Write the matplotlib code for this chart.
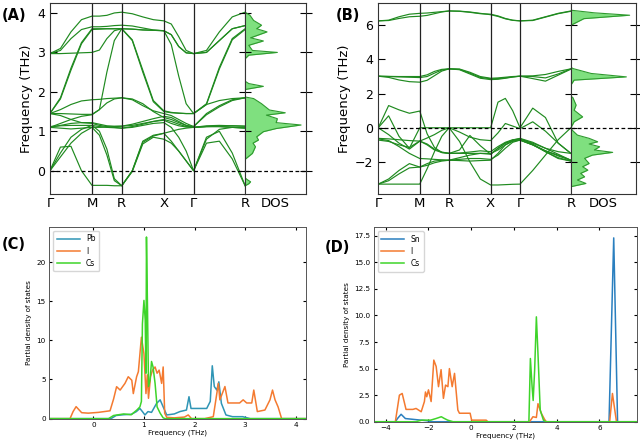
import matplotlib.pyplot as plt
import numpy as np

# k-path of the cubic cell
kpath_labels = ['Γ', 'M', 'R', 'X', 'Γ', 'R']
kpath_dist = [0.0, 0.707, 1.207, 1.914, 2.414, 3.280]

# each band is read at 5 points per segment, segment ends shared (21 values)
bands_a = [
    [2.97, 3.10, 3.52, 3.83, 3.92, 3.92, 3.94, 4.00, 4.02, 3.98, 3.90, 3.83, 3.80, 3.72, 3.40, 3.05, 2.97, 3.05, 3.52, 3.90, 4.02],
    [2.97, 3.05, 3.35, 3.58, 3.65, 3.65, 3.66, 3.68, 3.69, 3.67, 3.62, 3.57, 3.55, 3.20, 2.40, 1.70, 1.45, 1.68, 1.78, 1.83, 1.85],
    [2.97, 2.97, 2.98, 2.99, 3.00, 3.06, 3.35, 3.55, 3.60, 3.30, 2.50, 1.75, 1.50, 1.47, 1.46, 1.45, 1.45, 1.68, 2.58, 3.32, 3.58],
    [1.45, 1.85, 2.60, 3.25, 3.60, 3.60, 3.60, 3.60, 3.60, 3.32, 2.55, 1.78, 1.52, 1.48, 1.46, 1.45, 1.45, 1.70, 2.62, 3.35, 3.60],
    [1.45, 1.82, 2.55, 3.22, 3.58, 3.59, 3.60, 3.60, 3.60, 3.59, 3.57, 3.56, 3.55, 3.45, 3.15, 2.99, 2.97, 3.00, 3.30, 3.60, 3.68],
    [1.45, 1.55, 1.68, 1.77, 1.80, 1.81, 1.83, 1.84, 1.85, 1.80, 1.65, 1.52, 1.45, 1.40, 1.30, 1.20, 1.12, 1.45, 1.65, 1.80, 1.85],
    [1.45, 1.45, 1.44, 1.43, 1.43, 1.55, 1.72, 1.82, 1.85, 1.82, 1.70, 1.50, 1.35, 1.30, 1.22, 1.15, 1.12, 1.42, 1.62, 1.78, 1.85],
    [1.10, 1.15, 1.20, 1.22, 1.22, 1.18, 1.14, 1.13, 1.13, 1.18, 1.25, 1.32, 1.38, 1.35, 1.25, 1.15, 1.10, 1.12, 1.13, 1.14, 1.13],
    [1.12, 1.14, 1.15, 1.15, 1.15, 1.12, 1.10, 1.09, 1.08, 1.12, 1.18, 1.25, 1.30, 1.25, 1.18, 1.12, 1.10, 1.12, 1.12, 1.10, 1.08],
    [1.10, 1.08, 1.06, 1.08, 1.10, 1.10, 1.11, 1.12, 1.13, 1.15, 1.20, 1.25, 1.28, 1.20, 1.14, 1.11, 1.10, 1.14, 1.15, 1.14, 1.13],
    [0.00, 0.60, 0.62, 0.00, -0.37, -0.37, -0.37, -0.38, -0.38, 0.00, 0.72, 0.88, 0.95, 1.00, 1.05, 1.08, 1.10, 1.12, 1.12, 1.10, 1.08],
    [0.00, 0.45, 0.85, 1.05, 1.15, 1.00, 0.55, -0.20, -0.38, -0.02, 0.68, 0.85, 0.80, 0.70, 0.50, 0.25, 0.00, 0.70, 0.75, 0.30, -0.38],
    [0.00, 0.35, 0.70, 0.95, 1.10, 0.90, 0.40, -0.25, -0.38, 0.00, 0.75, 0.90, 0.95, 0.75, 0.50, 0.25, 0.00, 0.85, 1.00, 0.45, -0.38],
    [1.10, 1.20, 1.30, 1.38, 1.42, 1.55, 2.50, 3.30, 3.60, 3.59, 3.57, 3.56, 3.55, 3.45, 3.15, 2.99, 2.97, 3.00, 3.30, 3.60, 3.68],
    [1.45, 1.40, 1.30, 1.22, 1.20, 1.15, 1.12, 1.10, 1.08, 1.10, 1.15, 1.20, 1.22, 1.10, 0.85, 0.50, 0.00, 0.80, 1.05, 1.10, 1.10],
]

bands_b = [
    [6.26, 6.30, 6.50, 6.65, 6.70, 6.72, 6.76, 6.80, 6.84, 6.82, 6.76, 6.68, 6.65, 6.55, 6.40, 6.30, 6.26, 6.30, 6.50, 6.70, 6.84],
    [6.26, 6.28, 6.40, 6.50, 6.53, 6.58, 6.68, 6.78, 6.84, 6.83, 6.78, 6.70, 6.62, 6.52, 6.38, 6.29, 6.26, 6.28, 6.48, 6.68, 6.82],
    [3.02, 3.00, 2.98, 2.96, 2.94, 3.00, 3.20, 3.38, 3.45, 3.42, 3.20, 2.95, 2.87, 2.88, 2.92, 2.98, 3.02, 3.04, 3.12, 3.30, 3.45],
    [3.02, 2.95, 2.80, 2.70, 2.67, 2.78, 3.05, 3.32, 3.45, 3.40, 3.15, 2.90, 2.82, 2.84, 2.90, 2.97, 3.02, 2.88, 2.73, 3.08, 3.43],
    [3.02, 3.01, 3.00, 3.00, 3.00, 3.10, 3.30, 3.42, 3.45, 3.44, 3.25, 3.00, 2.90, 2.92, 2.96, 3.00, 3.02, 3.00, 2.92, 3.15, 3.45],
    [0.00, 1.30, 1.05, 0.85, 0.98, -0.35, -1.15, -1.45, -1.50, -1.48, -1.42, -1.35, -1.40, -1.10, -0.85, -0.70, -0.65, -0.90, -1.20, -1.40, -1.50],
    [0.00, 0.70, -0.50, -1.20, 0.00, 0.00, 0.00, 0.00, 0.00, 0.00, 0.00, 0.00, 0.00, 1.50, 1.72, 1.00, 0.00, 1.15, 0.60, -0.90, -1.50],
    [0.00, -0.40, -0.90, -1.25, -0.78, -0.95, -1.25, -1.42, -1.50, -1.30, -0.45, -1.05, -1.55, -1.20, -0.90, -0.72, -0.62, -0.85, -1.20, -1.55, -1.90],
    [-0.62, -0.65, -0.70, -0.75, -0.78, -0.60, -0.40, -0.15, 0.00, -0.25, -0.55, -0.70, -0.75, -0.30, 0.25, 0.10, -0.05, 0.35, -0.20, -0.90, -1.50],
    [-0.65, -0.75, -1.10, -1.50, -1.80, -1.82, -1.85, -1.88, -1.90, -1.92, -1.95, -1.92, -1.90, -1.50, -1.00, -0.75, -0.65, -0.95, -1.40, -1.80, -1.95],
    [-0.72, -0.80, -1.00, -1.15, -0.78, -1.00, -1.30, -1.45, -1.50, -1.50, -1.50, -1.50, -1.50, -1.30, -1.00, -0.80, -0.72, -1.00, -1.35, -1.60, -1.90],
    [-3.30, -3.30, -3.30, -3.30, -3.30, -2.40, -1.40, -0.50, 0.00, -0.80, -2.00, -3.00, -3.35, -3.35, -3.33, -3.31, -3.30, -2.50, -1.60, -0.70, 0.00],
    [-3.30, -3.00, -2.50, -2.10, -2.30, -2.20, -2.05, -1.95, -1.90, -1.85, -1.80, -1.80, -1.85, -1.60, -1.20, -0.85, -0.72, -1.00, -1.40, -1.75, -1.95],
    [-3.30, -3.10, -2.70, -2.35, -2.30, -2.10, -1.95, -1.90, -1.90, -1.75, -1.60, -1.50, -1.55, -1.20, -0.90, -0.75, -0.72, -1.00, -1.35, -1.65, -1.90],
]

# total DOS (frequency, relative width)
dos_a_freq = [-0.45, -0.38, -0.33, -0.28, -0.22, -0.18, 0.29, 0.44, 0.61, 0.70, 0.78, 0.86, 0.99, 1.07, 1.16, 1.22, 1.32,
              1.41, 1.47, 1.54, 1.70, 1.83, 1.87, 2.06, 2.14, 2.21, 2.27, 2.84, 2.93, 3.00, 3.05, 3.18, 3.29, 3.37,
              3.52, 3.60, 3.69, 3.81, 3.94, 4.02, 4.25]
dos_a_val = [0.0, 0.0, 0.06, 0.09, 0.03, 0.0, 0.0, 0.12, 0.17, 0.13, 0.22, 0.19, 0.30, 0.51, 0.92, 0.51, 0.53,
             0.35, 0.66, 0.40, 0.27, 0.14, 0.0, 0.0, 0.30, 0.06, 0.0, 0.0, 0.06, 0.53, 0.12, 0.06, 0.30, 0.09,
             0.36, 0.19, 0.27, 0.14, 0.08, 0.0, 0.0]
dos_b_freq = [-3.6, -3.45, -3.26, -3.06, -2.87, -2.67, -2.48, -2.28, -2.09, -1.79, -1.60, -1.44, -1.30, -1.11, -0.95,
              -0.82, -0.62, -0.43, -0.14, 0.0, 0.35, 0.64, 1.03, 1.33, 1.77, 1.85, 2.50, 2.79, 2.98, 3.18, 3.47, 3.55,
              6.00, 6.06, 6.39, 6.59, 6.73, 6.88, 6.95, 7.3]
dos_b_val = [0.0, 0.0, 0.23, 0.10, 0.21, 0.15, 0.26, 0.18, 0.28, 0.21, 0.33, 0.64, 0.36, 0.44, 0.28,
             0.41, 0.28, 0.10, 0.02, 0.0, 0.05, 0.18, 0.05, 0.08, 0.03, 0.0, 0.0, 0.05, 0.85, 0.31, 0.03, 0.0,
             0.0, 0.03, 0.20, 0.90, 0.36, 0.01, 0.0, 0.0]

# partial DOS, CsPbI3
c_pb_x = [-0.87, 0.35, 0.45, 0.60, 0.75, 0.85, 0.92, 0.97, 1.02, 1.08, 1.15, 1.25, 1.32, 1.38, 1.45, 1.60, 1.71, 1.84,
          1.89, 1.93, 2.00, 2.24, 2.31, 2.35, 2.39, 2.44, 2.48, 2.53, 2.62, 2.75, 2.95, 3.10, 4.20]
c_pb_y = [0, 0, 0.4, 0.5, 0.55, 0.9, 1.3, 0.9, 0.47, 0.9, 0.8, 1.95, 2.4, 1.5, 0.47, 0.6, 0.9, 1.1,
          2.8, 1.3, 1.3, 1.3, 2.2, 6.75, 4.1, 3.65, 4.7, 1.95, 0.47, 0.25, 0.25, 0, 0]
c_i_x = [-0.87, -0.46, -0.40, -0.34, -0.23, -0.10, 0.10, 0.33, 0.40, 0.46, 0.53, 0.625, 0.69, 0.76, 0.79, 0.855, 0.89,
         0.95, 1.00, 1.04, 1.066, 1.09, 1.13, 1.17, 1.22, 1.26, 1.30, 1.35, 1.38, 1.41, 1.45, 1.60, 1.80, 1.875,
         1.94, 2.20, 2.37, 2.47, 2.50, 2.60, 2.66, 2.89, 2.96, 3.03, 3.13, 3.17, 3.24, 3.39, 3.49, 3.54, 3.59, 3.65,
         3.72, 4.20]
c_i_y = [0, 0, 0.9, 1.53, 0.76, 0.7, 0.8, 1.0, 2.5, 4.08, 3.65, 4.5, 5.35, 4.9, 3.2, 5.35, 6.0,
         10.4, 8.3, 3.2, 5.6, 2.6, 5.35, 6.2, 6.6, 5.8, 6.2, 4.5, 6.6, 0.7, 0.17, 0.1, 0.2, 0.47,
         0, 0, 0.25, 4.5, 2.4, 4.1, 2.0, 2.0, 2.4, 2.0, 2.0, 3.65, 0.9, 1.1, 2.4, 3.65, 2.4, 1.5,
         0, 0]
c_cs_x = [-0.87, 0.30, 0.40, 0.60, 0.75, 0.86, 0.92, 0.95, 0.97, 1.00, 1.025, 1.04, 1.05, 1.07, 1.09, 1.12, 1.15,
          1.18, 1.22, 1.26, 1.32, 1.38, 1.42, 4.20]
c_cs_y = [0, 0, 0.4, 0.6, 0.5, 1.1, 1.5, 2.2, 12.1, 15.1, 12.6, 5.8, 23.2, 14.3, 4.1, 4.9, 7.3,
          6.6, 4.5, 1.5, 0.7, 0.1, 0, 0]

# partial DOS, CsSnI3
d_sn_x = [-4.56, -3.55, -3.45, -3.28, -3.08, -2.60, -2.10, -1.80, 6.45, 6.67, 6.85, 7.75]
d_sn_y = [0, 0, 0.3, 0.7, 0.3, 0.2, 0.1, 0, 0, 17.3, 0, 0]
d_i_x = [-4.56, -3.55, -3.36, -3.23, -3.05, -2.73, -2.58, -2.34, -2.19, -2.14, -2.08, -2.00, -1.875, -1.75, -1.64,
         -1.53, -1.41, -1.30, -1.20, -1.09, -1.02, -0.89, -0.78, -0.625, -0.55, -0.05, 0.02, 0.70, 0.78, 2.73,
         2.89, 3.05, 3.125, 3.28, 3.44, 3.52, 6.48, 6.61, 6.72, 6.80, 7.75]
d_i_y = [0, 0, 2.5, 2.66, 1.16, 1.16, 1.25, 0.94, 1.9, 2.8, 2.35, 3.0, 1.9, 5.8, 5.2,
         3.3, 4.9, 2.2, 3.45, 3.3, 5.0, 3.3, 4.55, 1.1, 0.8, 0.8, 0.15, 0.15, 0, 0,
         0.47, 0.4, 1.7, 0.8, 0.2, 0, 0, 2.66, 1.1, 0, 0]
d_cs_x = [-4.56, -2.60, -2.30, -1.90, -1.65, -1.40, -1.25, -1.10, -0.85, 2.70, 2.77, 2.85, 2.90, 2.97, 3.05, 3.125,
          3.23, 3.38, 3.48, 7.75]
d_cs_y = [0, 0, 0.15, 0.15, 0.3, 0.47, 0.3, 0.15, 0, 0, 5.95, 3.3, 2.0, 4.9, 9.87, 6.4,
          1.1, 0.15, 0, 0]

band_color = '#1f8a1f'


def kgrid():
  k = [kpath_dist[0]]
  for i in range(len(kpath_dist) - 1):
    k += list(np.linspace(kpath_dist[i], kpath_dist[i + 1], 5)[1:])
  return k


def band_panel(fig, rect_b, rect_d, bands, dos_f, dos_w, ylim, yticks):
  ax = fig.add_axes(rect_b)
  dax = fig.add_axes(rect_d)
  k = kgrid()
  for b in bands:
    ax.plot(k, b, color=band_color, lw=0.85)
  for x in kpath_dist[1:-1]:
    ax.axvline(x, color='#222222', lw=0.9)
  ax.axhline(0, ls='--', color='k', lw=0.9, dashes=(3, 2))
  ax.set_xlim(0, kpath_dist[-1])
  ax.set_ylim(ylim)
  ax.set_yticks(yticks)
  ax.set_xticks(kpath_dist)
  ax.set_xticklabels(kpath_labels)
  ax.tick_params(axis='x', length=0, labelsize=9.5, pad=2)
  ax.tick_params(axis='y', direction='in', length=5, labelsize=9)
  ax.set_ylabel('Frequency (THz)', fontsize=9.5, labelpad=3)

  dax.fill_betweenx(dos_f, 0, dos_w, color='#7fe07f', lw=0)
  dax.plot(dos_w, dos_f, color='#2e9a2e', lw=0.8)
  dax.axhline(0, ls='--', color='k', lw=0.9, dashes=(3, 2))
  dax.set_xlim(0, 1)
  dax.set_ylim(ylim)
  dax.set_yticks(yticks)
  dax.set_xticks([0.5])
  dax.set_xticklabels(['DOS'])
  dax.tick_params(axis='x', length=0, labelsize=9.5, pad=2)
  dax.tick_params(axis='y', direction='inout', length=8, left=True, right=True, labelleft=False)
  for a in (ax, dax):
    for s in a.spines.values():
      s.set_color('#333333')


def pdos_panel(fig, rect, series, xlim, ylim, xticks, yticks):
  ax = fig.add_axes(rect)
  for x, y, c, name in series:
    ax.plot(x, y, color=c, lw=1.1, label=name)
  ax.set_xlim(xlim)
  ax.set_ylim(ylim)
  ax.set_xticks(xticks)
  ax.set_yticks(yticks)
  ax.tick_params(direction='in', top=True, right=True, length=2.5, labelsize=5.2, pad=2.5)
  ax.set_xlabel('Frequency (THz)', fontsize=5.2, labelpad=1)
  ax.set_ylabel('Partial density of states', fontsize=5.2, labelpad=3)
  ax.legend(loc='upper left', fontsize=5.5, handlelength=3, borderpad=0.5, labelspacing=0.4)
  for s in ax.spines.values():
    s.set_color('#555555')
    s.set_linewidth(0.7)


def main():
  fig = plt.figure(figsize=(6.4, 4.43), dpi=100)
  band_panel(fig, [0.078, 0.562, 0.305, 0.431], [0.383, 0.562, 0.095, 0.431],
             bands_a, dos_a_freq, dos_a_val, (-0.59, 4.25), [0, 1, 2, 3, 4])
  band_panel(fig, [0.591, 0.562, 0.301, 0.431], [0.892, 0.562, 0.102, 0.431],
             bands_b, dos_b_freq, dos_b_val, (-3.88, 7.3), [-2, 0, 2, 4, 6])
  pdos_panel(fig, [0.077, 0.055, 0.401, 0.433],
             [(c_pb_x, c_pb_y, '#2f95b5', 'Pb'), (c_i_x, c_i_y, '#f47a30', 'I'), (c_cs_x, c_cs_y, '#3ed42a', 'Cs')],
             (-0.87, 4.2), (0, 24.5), [0, 1, 2, 3, 4], [0, 5, 10, 15, 20])
  pdos_panel(fig, [0.584, 0.048, 0.411, 0.439],
             [(d_sn_x, d_sn_y, '#2a7fbf', 'Sn'), (d_i_x, d_i_y, '#f47a30', 'I'), (d_cs_x, d_cs_y, '#3ed42a', 'Cs')],
             (-4.56, 7.75), (0, 18.3), [-4, -2, 0, 2, 4, 6], [0, 2.5, 5, 7.5, 10, 12.5, 15, 17.5])
  for lbl, x, y in [('(A)', 0.003, 0.965), ('(B)', 0.525, 0.965), ('(C)', 0.003, 0.447), ('(D)', 0.508, 0.441)]:
    fig.text(x, y, lbl, fontsize=10.5, fontweight='bold', va='center')
  fig.savefig('out.png', dpi=100)


if __name__ == '__main__':
  main()
